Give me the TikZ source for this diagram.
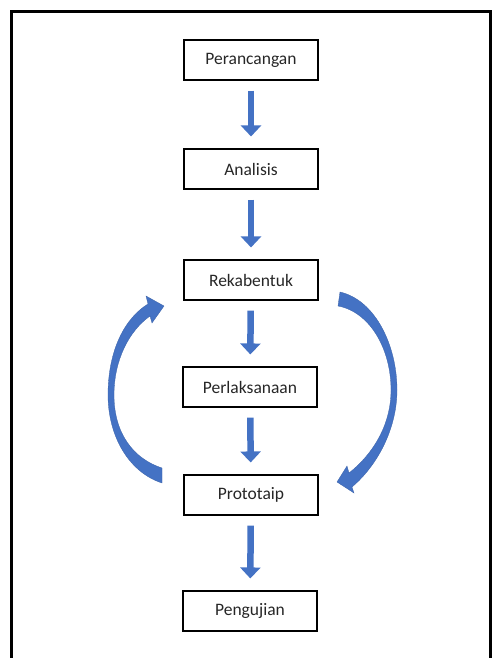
\documentclass[tikz,border=0pt]{standalone}
\usepackage{fontspec}
\setmainfont{Carlito}
\usepackage{tikz}
\usetikzlibrary{arrows.meta}
\definecolor{flowblue}{HTML}{4472C4}
\tikzset{
  stage/.style={rectangle,draw=black,line width=1.1pt,minimum width=134pt,minimum height=40pt,inner sep=0pt,text=black!85,font=\fontsize{17.5}{20}\selectfont},
  flowarrow/.style={draw=flowblue,line width=6.5pt,-{Triangle[width=20pt,length=11pt]},shorten <=10pt,shorten >=12pt},
  loopshape/.style={fill=flowblue,draw=flowblue!85!black,line width=0.3pt}
}
\begin{document}
\begin{tikzpicture}[x=1pt,y=-1pt]
\useasboundingbox (0,0) rectangle (493,658);
\draw[line width=3pt] (11.5,660) -- (11.5,12) -- (490,12) -- (490,660);
\node at (251,60)[stage](perancangan){Perancangan};
\node at (251,169)[stage](analisis){Analisis};
\node at (251,280)[stage](rekabentuk){Rekabentuk};
\node at (250,387)[stage](perlaksanaan){Perlaksanaan};
\node at (251,495)[stage](prototaip){Prototaip};
\node at (250,611)[stage](pengujian){Pengujian};
\draw[flowarrow] (perancangan) -- (analisis);
\draw[flowarrow] (analisis) -- (rekabentuk);
\draw[flowarrow] (rekabentuk) -- (perlaksanaan);
\draw[flowarrow] (perlaksanaan) -- (prototaip);
\draw[flowarrow] (prototaip) -- (pengujian);
% loop back from Prototaip to Rekabentuk
\fill[loopshape] (162,483) .. controls (128,472) and (108,435) .. (108,395)
  .. controls (108,350) and (125,318) .. (148,304) -- (146,296) -- (164,306) -- (152,323) -- (150,316)
  .. controls (129,331) and (114,360) .. (114,395) .. controls (114,434) and (134,459) .. (162,468) -- cycle;
% loop forward from Rekabentuk to Prototaip
\fill[loopshape] (340,292) .. controls (375,300) and (397,345) .. (397,390)
  .. controls (397,428) and (378,465) .. (352,487) -- (354,493) -- (337,482) -- (347,466) -- (349,473)
  .. controls (373,454) and (391,425) .. (391,390) .. controls (391,349) and (370,312) .. (338,306) -- cycle;
\end{tikzpicture}
\end{document}
